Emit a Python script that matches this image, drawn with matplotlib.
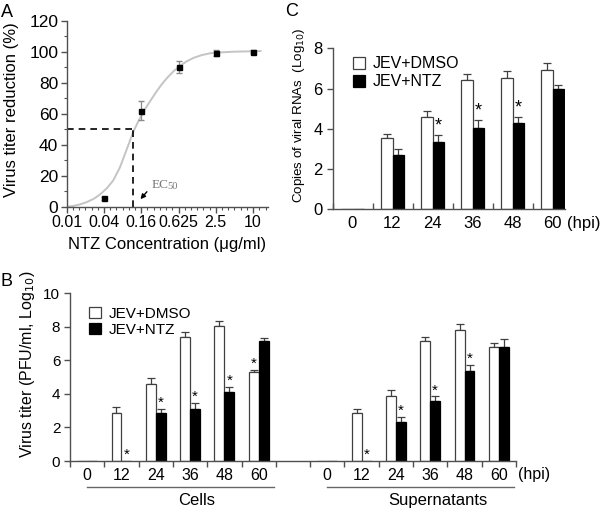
import numpy as np
import matplotlib
matplotlib.use("Agg")
import matplotlib.pyplot as plt
from matplotlib.patches import Patch
from matplotlib.ticker import MultipleLocator

plt.rcParams['font.family'] = ['Liberation Sans', 'DejaVu Sans']

# ---------------- Panel A data ----------------
conc_labels = ["0.01", "0.04", "0.16", "0.625", "2.5", "10"]
pt_pos = [1, 2, 3, 4, 5]                # log4 steps above 0.01
pt_val = [5.4, 62, 90, 99.4, 100]
pt_err = [0.8, 6, 4, 2, 1]
curve_pos = [0.0, 0.18, 0.36, 0.54, 0.72, 0.90, 1.08, 1.25, 1.43, 1.61, 1.79,
             1.95, 2.10, 2.25, 2.40, 2.55, 2.69, 2.87, 3.05, 3.22, 3.40, 3.62,
             3.85, 4.15, 4.48, 4.85, 5.2]
curve_val = [0.0, 0.5, 1.5, 3.0, 5.0, 8.0, 12.0, 17.0, 25.5, 37.0, 48.5,
             56.5, 63.0, 68.5, 74.0, 79.0, 83.0, 87.5, 91.0, 93.8, 96.0, 97.8,
             99.0, 99.6, 100.0, 100.2, 100.4]
ec50_pos = 1.79

# ---------------- Panel B data ----------------
hpi = ["0", "12", "24", "36", "48", "60"]
cells_dmso = [0, 2.84, 4.59, 7.36, 8.05, 5.30]
cells_dmso_err = [0, 0.40, 0.38, 0.31, 0.26, 0.14]
cells_ntz = [0, 0, 2.84, 3.08, 4.08, 7.12]
cells_ntz_err = [0, 0, 0.26, 0.40, 0.35, 0.20]
sup_dmso = [0, 2.84, 3.88, 7.12, 7.81, 6.80]
sup_dmso_err = [0, 0.26, 0.35, 0.26, 0.34, 0.22]
sup_ntz = [0, 0, 2.31, 3.60, 5.33, 6.78]
sup_ntz_err = [0, 0, 0.33, 0.24, 0.40, 0.48]
cells_star_dmso = [False, False, False, False, False, True]
cells_star_ntz = [False, True, True, True, True, False]
sup_star_ntz = [False, True, True, True, True, False]

# ---------------- Panel C data ----------------
rna_dmso = [0, 3.53, 4.60, 6.42, 6.50, 6.92]
rna_dmso_err = [0, 0.21, 0.28, 0.28, 0.39, 0.36]
rna_ntz = [0, 2.70, 3.36, 4.06, 4.29, 5.96]
rna_ntz_err = [0, 0.30, 0.33, 0.38, 0.31, 0.24]
rna_star_ntz = [False, False, True, True, True, False]

W, H = 600, 511
fig = plt.figure(figsize=(6, 5.11), dpi=100)
SP = '#505050'
BW = 0.29


def fx(px):
    return px / W


def fy(py):
    return 1 - py / H


def style_axes(ax):
    for s in ['top', 'right']:
        ax.spines[s].set_visible(False)
    for s in ['left', 'bottom']:
        ax.spines[s].set_color(SP)
        ax.spines[s].set_linewidth(1.0)
    ax.tick_params(colors=SP, labelcolor='black')


# ================= Panel A =================
axA = fig.add_axes([fx(66.7), fy(206.7), fx(268 - 66.7), (206.7 - 20.7) / H])
style_axes(axA)
axA.plot(curve_pos, curve_val, color='#c4c4c4', lw=1.4, zorder=2,
         solid_joinstyle='round')
axA.errorbar(pt_pos, pt_val, yerr=pt_err, fmt='s', color='black', ms=3.6,
             ecolor='#8a8a8a', elinewidth=0.9, capsize=2.5, zorder=3)
axA.plot([0, ec50_pos], [50, 50], color='black', ls=(0, (4, 3)), lw=1.2, zorder=2)
axA.plot([ec50_pos, ec50_pos], [0, 50], color='black', ls=(0, (4, 3)), lw=1.2, zorder=2)
axA.annotate('', xy=(1.93, 3.5), xytext=(2.2, 11),
             arrowprops=dict(arrowstyle='-|>', color='black', lw=1.0,
                             mutation_scale=7))
axA.text(2.27, 14, 'EC', family='Liberation Serif', fontsize=9.5,
         color='#777777', va='center', ha='left')
axA.text(2.71, 13, '50', family='Liberation Serif', fontsize=7.5,
         color='#777777', va='center', ha='left')
axA.set_xlim(0, 5.4)
axA.set_ylim(0, 120)
axA.set_xticks(range(len(conc_labels)))
axA.set_xticklabels(conc_labels, fontsize=11.5)
axA.xaxis.set_minor_locator(MultipleLocator(1 / 6))
axA.set_yticks(np.arange(0, 121, 20))
axA.yaxis.set_minor_locator(MultipleLocator(10))
axA.tick_params(axis='y', labelsize=12.5, length=4, width=1, pad=2)
axA.tick_params(axis='x', length=4, width=1, pad=2)
axA.tick_params(which='minor', length=2.5, width=0.8, colors=SP)
axA.set_ylabel('Virus titer reduction (%)', fontsize=12)
axA.yaxis.set_label_coords((19.5 - 66.7) / (268 - 66.7), (206.7 - 110) / 186)
axA.set_xlabel('NTZ Concentration (\u03bcg/ml)', fontsize=12, labelpad=5)

fig.text(fx(7), fy(12.5), 'A', fontsize=13, ha='center', va='center')
fig.text(fx(292), fy(11), 'C', fontsize=13, ha='center', va='center')
fig.text(fx(6), fy(281), 'B', fontsize=13, ha='center', va='center')


def draw_bars(ax, xs, dmso, dmso_err, ntz, ntz_err, bw, star_d, star_n,
              star_fs, star_off):
    xs = np.asarray(xs, dtype=float)
    d = np.asarray(dmso)
    n = np.asarray(ntz)
    ax.bar(xs - bw / 2, d, bw, color='white', edgecolor='#404040', lw=0.9, zorder=2)
    ax.bar(xs + bw / 2, n, bw, color='black', edgecolor='black', lw=0.9, zorder=2)
    for x, v, e in zip(xs - bw / 2, d, dmso_err):
        if v > 0:
            ax.errorbar([x], [v], yerr=[[0], [e]], fmt='none', ecolor='#404040',
                        elinewidth=0.9, capsize=3, capthick=0.9, zorder=1)
    for x, v, e in zip(xs + bw / 2, n, ntz_err):
        if v > 0:
            ax.errorbar([x], [v], yerr=[[0], [e]], fmt='none', ecolor='#404040',
                        elinewidth=0.9, capsize=3, capthick=0.9, zorder=1)
    for x, v, e, s in zip(xs - bw / 2, d, dmso_err, star_d):
        if s:
            ax.text(x, v + e + star_off, '*', fontsize=star_fs, ha='center',
                    va='center')
    for x, v, e, s in zip(xs + bw / 2, n, ntz_err, star_n):
        if s:
            ax.text(x, v + e + star_off, '*', fontsize=star_fs, ha='center',
                    va='center')


# ================= Panel B =================
axB = fig.add_axes([fx(70), fy(461), fx(446), (461 - 293) / H])
style_axes(axB)
cells_x = np.arange(6)
sup_x = np.arange(6) + 7
draw_bars(axB, cells_x, cells_dmso, cells_dmso_err, cells_ntz, cells_ntz_err,
          BW, cells_star_dmso, cells_star_ntz, 11, 0.35)
draw_bars(axB, sup_x, sup_dmso, sup_dmso_err, sup_ntz, sup_ntz_err,
          BW, [False] * 6, sup_star_ntz, 11, 0.35)
axB.set_xlim(-0.5, 12.5)
axB.set_ylim(0, 10)
axB.set_yticks(np.arange(0, 11, 2))
axB.set_xticks(list(cells_x) + list(sup_x))
axB.set_xticklabels(hpi + hpi, fontsize=11.5)
axB.set_xticks(np.arange(-0.5, 12.6, 1), minor=True)
axB.tick_params(axis='x', which='major', length=0, pad=5)
axB.tick_params(axis='x', which='minor', length=4, width=1, direction='out', colors=SP)
axB.tick_params(axis='y', labelsize=11, length=4, width=1, pad=3)
axB.set_ylabel('Virus titer (PFU/ml, Log$_{10}$)', fontsize=11.5)
axB.yaxis.set_label_coords((37 - 70) / 446, (461 - 364) / 168)
tB = axB.get_xaxis_transform()
axB.text(12.55, -0.083, '(hpi)', transform=tB, fontsize=11.5, ha='left', va='center')
axB.plot([0.0, 5.45], [-0.153, -0.153], transform=tB, color='#666666', lw=1.0,
         clip_on=False)
axB.plot([7.0, 12.45], [-0.153, -0.153], transform=tB, color='#666666', lw=1.0,
         clip_on=False)
axB.text(3.2, -0.235, 'Cells', transform=tB, fontsize=12, ha='center', va='center')
axB.text(10.23, -0.235, 'Supernatants', transform=tB, fontsize=12, ha='center',
         va='center')
hB = [Patch(facecolor='white', edgecolor='#404040', lw=0.9),
      Patch(facecolor='black', edgecolor='black', lw=0.9)]
axB.legend(hB, ['JEV+DMSO', 'JEV+NTZ'], loc='upper left',
           bbox_to_anchor=(0.03, 0.955), frameon=False, fontsize=11,
           handlelength=0.75, handleheight=0.75, handletextpad=0.5,
           labelspacing=0.12, borderaxespad=0)

# ================= Panel C =================
axC = fig.add_axes([fx(332.5), fy(209.3), fx(232), (209.3 - 48.3) / H])
style_axes(axC)
cx = np.arange(6)
draw_bars(axC, cx, rna_dmso, rna_dmso_err, rna_ntz, rna_ntz_err, BW,
          [False] * 6, rna_star_ntz, 13, 0.45)
axC.set_xlim(-0.5, 5.3)
axC.set_ylim(0, 8)
axC.set_yticks(np.arange(0, 9, 2))
axC.set_xticks(cx)
axC.set_xticklabels(hpi, fontsize=12)
axC.set_xticks(np.arange(-0.5, 5, 1), minor=True)
axC.tick_params(axis='x', which='major', length=0, pad=5)
axC.tick_params(axis='x', which='minor', length=4, width=1, direction='in', colors=SP)
axC.tick_params(axis='y', labelsize=12, length=4, width=1, pad=3)
axC.set_ylabel('Copies of viral RNAs  (Log$_{10}$)', fontsize=9.6)
axC.yaxis.set_label_coords((307 - 332.5) / 232, (209.3 - 115) / 161)
tC = axC.get_xaxis_transform()
axC.text(5.37, -0.087, '(hpi)', transform=tC, fontsize=12, ha='left', va='center')
axC.legend(hB, ['JEV+DMSO', 'JEV+NTZ'], loc='upper left',
           bbox_to_anchor=(0.06, 0.99), frameon=False, fontsize=11.5,
           handlelength=0.75, handleheight=0.75, handletextpad=0.5,
           labelspacing=0.2, borderaxespad=0)

fig.savefig('out.png', dpi=100)
